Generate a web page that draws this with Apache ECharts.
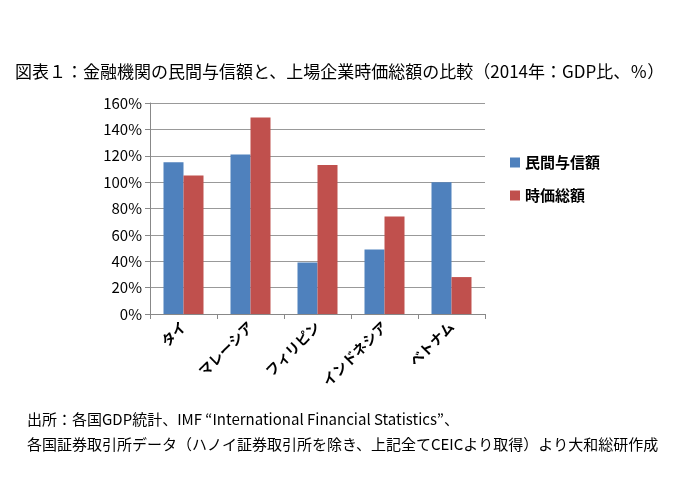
<!DOCTYPE html>
<html><head><meta charset="utf-8">
<script src="https://cdn.jsdelivr.net/npm/echarts@6/dist/echarts.min.js"></script>
<style>body{margin:0;background:#fff}#c{width:700px;height:480px}</style>
</head><body><div id="c"></div>
<script>
const categories = ['タイ','マレーシア','フィリピン','インドネシア','ベトナム'];
const credit = [115, 121, 39, 49, 100];
const marketCap = [105, 149, 113, 74, 28];
const seriesNames = ['民間与信額','時価総額'];
const font = '"Noto Sans CJK JP", sans-serif';
const chart = echarts.init(document.getElementById('c'));
chart.setOption({
  animation:false,
  textStyle:{fontFamily:font},
  title:[
    {text:'図表１：金融機関の民間与信額と、上場企業時価総額の比較（2014年：GDP比、％）',left:10,top:58,textStyle:{fontSize:17,fontWeight:'normal',color:'#000',fontFamily:font}},
    {text:'出所：各国GDP統計、IMF “International Financial Statistics”、\n各国証券取引所データ（ハノイ証券取引所を除き、上記全てCEICより取得）より大和総研作成',left:22,top:402,textStyle:{fontSize:15,fontWeight:'normal',color:'#000',lineHeight:25,fontFamily:font}}
  ],
  legend:{orient:'vertical',left:505,top:150,itemWidth:10,itemHeight:10,itemGap:18,icon:'rect',textStyle:{fontSize:15,color:'#000',fontWeight:'bold'},data:seriesNames},
  grid:{left:150,right:215,top:103,bottom:166,containLabel:false},
  xAxis:{type:'category',data:categories,axisLine:{lineStyle:{color:'#888'}},axisTick:{show:true,alignWithLabel:false,lineStyle:{color:'#888'}},
    axisLabel:{rotate:45,color:'#000',fontSize:14,fontWeight:'bold',margin:10}},
  yAxis:{type:'value',min:0,max:160,interval:20,axisLine:{show:true,lineStyle:{color:'#888'}},axisTick:{show:true,lineStyle:{color:'#888'}},
    splitLine:{lineStyle:{color:'#999'}},axisLabel:{formatter:'{value}%',color:'#000',fontSize:15}},
  series:[
    {name:seriesNames[0],type:'bar',data:credit,itemStyle:{color:'#4F81BD'},barWidth:20,barGap:'0%'},
    {name:seriesNames[1],type:'bar',data:marketCap,itemStyle:{color:'#C0504D'},barWidth:20}
  ]
});
</script></body></html>
